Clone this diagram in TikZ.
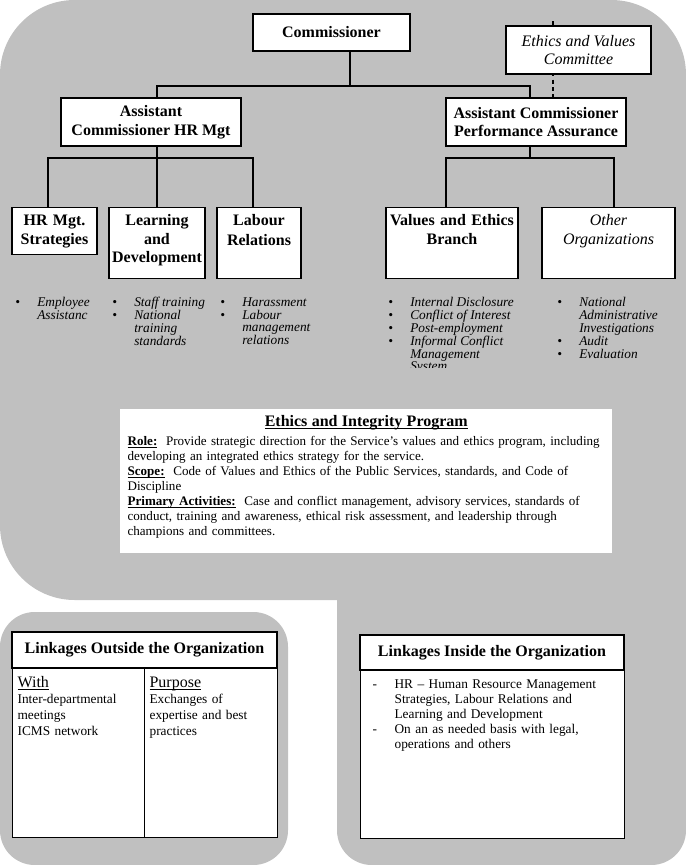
\documentclass[tikz,border=0pt]{standalone}
\usepackage{fontspec}
\setmainfont{Liberation Serif}
\usepackage{xcolor}
\usepackage{tikz}
\usetikzlibrary{positioning}

\definecolor{panelgray}{RGB}{192,192,192}
\newcommand{\undl}[1]{\underline{\smash{#1}}}

\begin{document}
\begin{tikzpicture}[x=0.75pt,y=-0.75pt,
  every node/.style={font=\fontsize{10}{11.25}\selectfont},
  panel/.style={fill=panelgray, draw=none},
  orgbox/.style={draw, line width=0.9pt, fill=white, align=center, inner sep=3pt, font=\fontsize{12}{14}\selectfont\bfseries},
  lowbox/.style 2 args={orgbox, anchor=north, inner xsep=1pt, inner ysep=3.5pt, text width=#1, text height=10pt, text depth=#2},
  tree/.style={line width=1.5pt},
  dashline/.style={line width=1.2pt, dash pattern=on 3pt off 2.5pt},
  bulletlist/.style={anchor=north west, inner sep=0pt, font=\itshape\fontsize{10}{9.4}\selectfont},
  progbox/.style={fill=white, anchor=north west, inner xsep=5.5pt, inner ysep=3pt, text width=358pt, align=left, text height=10pt, text depth=92pt},
  linkhead/.style={draw, line width=0.9pt, fill=white, font=\fontsize{12}{14}\selectfont\bfseries},
  linkcell/.style={draw, line width=0.9pt, fill=white, anchor=north west, inner xsep=3.75pt, inner ysep=3pt, align=left}
]
\useasboundingbox (0,0) rectangle (686,865);

% grey panels
\fill[panel, rounded corners=56pt] (0,0) rectangle (686,600);
\fill[panel, rounded corners=26pt] (337,400) rectangle (686,865);
\fill[panel, rounded corners=26pt] (0,612) rectangle (288,865);

% chart
\node[orgbox, minimum width=117.75pt, minimum height=27.75pt] (comm) at (331.5,32.5) {Commissioner};
\node[orgbox, minimum width=135pt, minimum height=36pt] (achr) at (151,122) {Assistant\\Commissioner HR Mgt};
\node[orgbox, minimum width=135pt, minimum height=36pt] (acpa) at (536,122) {Assistant Commissioner\\Performance Assurance};
\coordinate (dashtop) at (553,21);
\draw[dashline] (dashtop) -- (dashtop |- acpa.north);
\node[orgbox, font=\fontsize{12}{13.5}\selectfont\itshape, minimum width=108.75pt, minimum height=36pt] (evc) at (578.5,50) {Ethics and Values\\Committee};

\node[lowbox={61.75pt}{18.25pt}] (hrstrat) at (54.5,207) {HR Mgt.\\Strategies};
\node[lowbox={70pt}{36.25pt}] (learn) at (157,207) {Learning\\and\\Development};
\node[lowbox={61pt}{36.25pt}] (labour) at (259,207) {Labour\\[1pt]Relations};
\node[lowbox={97pt}{36.25pt}] (veb) at (452,207) {Values and Ethics\\Branch};
\node[lowbox={97.75pt}{36.25pt}, font=\fontsize{12}{14}\selectfont\itshape] (otherorg) at (608.5,207) {Other\\Organizations};

\draw[tree] ([xshift=13.5pt]comm.south) -- ++(0,34) coordinate (cbar);
\draw[tree] ([xshift=4.5pt]achr.north) |- (cbar) -| ([xshift=-4.5pt]acpa.north);
\draw[tree] ([xshift=4.5pt]achr.south) -- ++(0,11) coordinate (hrbar);
\draw[tree] ([xshift=-5pt]hrstrat.north) |- (hrbar) -| ([xshift=-4.5pt]labour.north);
\draw[tree] (learn.north) -- (learn.north |- hrbar);
\draw[tree] ([xshift=-4.5pt]acpa.south) -- ++(0,11) coordinate (pabar);
\draw[tree] ([xshift=-4.5pt]veb.north) |- (pabar) -| ([xshift=4pt]otherorg.north);

% lists under the boxes
\node[bulletlist] (hrlist) at (15,297) {\begin{tabular}[t]{@{}p{16.5pt}@{}l@{}}\textbullet & Employee\\ & Assistanc\end{tabular}};
\node[bulletlist] (ldlist) at (112,297) {\begin{tabular}[t]{@{}p{16.5pt}@{}l@{}}\textbullet & Staff training\\ \textbullet & National\\ & training\\ & standards\end{tabular}};
\node[bulletlist] (lrlist) at (220,297) {\begin{tabular}[t]{@{}p{16.5pt}@{}l@{}}\textbullet & Harassment\\ \textbullet & Labour\\ & management\\ & relations\end{tabular}};
\begin{scope}
\clip (380,290) rectangle (545,367);
\node[bulletlist] (veblist) at (388,297) {\begin{tabular}[t]{@{}p{16.5pt}@{}l@{}}\textbullet & Internal Disclosure\\ \textbullet & Conflict of Interest\\ \textbullet & Post-employment\\ \textbullet & Informal Conflict\\ & Management\\ & System\end{tabular}};
\end{scope}
\node[bulletlist] (orglist) at (557,297) {\begin{tabular}[t]{@{}p{16.5pt}@{}l@{}}\textbullet & National\\ & Administrative\\ & Investigations\\ \textbullet & Audit\\ \textbullet & Evaluation\end{tabular}};

% program
\node[progbox, font=\fontsize{9.8}{11.25}\selectfont] (prog) at (120,409) {\hyphenpenalty=10000\makebox[358pt]{\fontsize{12}{14}\selectfont\bfseries\undl{Ethics and Integrity Program}}\\[3pt]
\undl{\textbf{Role:}}\ \ Provide strategic direction for the Service’s values and ethics program, including\\
developing an integrated ethics strategy for the service.\\
\undl{\textbf{Scope:}}\ \ Code of Values and Ethics of the Public Services, standards, and Code of\\
Discipline\\
\undl{\textbf{Primary Activities:}}\ \ Case and conflict management, advisory services, standards of\\
conduct, training and awareness, ethical risk assessment, and leadership through\\
champions and committees.};

% linkages
\node[linkhead, minimum width=198.75pt, minimum height=27pt] (outhead) at (144.5,650) {Linkages Outside the Organization};
\node[linkcell, font=\fontsize{10}{12}\selectfont, text width=91.5pt, text height=11.25pt, text depth=109.5pt] (withcell) at (12,668) {{\fontsize{12}{14}\selectfont\undl{With}\par}Inter-departmental\\meetings\\ICMS network};
\node[linkcell, font=\fontsize{10}{12}\selectfont, text width=92.25pt, text height=11.25pt, text depth=109.5pt] (purposecell) at (144,668) {{\fontsize{12}{14}\selectfont\undl{Purpose}\par}Exchanges of\\expertise and best\\practices};

\node[linkhead, minimum width=198pt, minimum height=26.25pt] (inhead) at (492,652.5) {Linkages Inside the Organization};
\node[linkcell, inner xsep=9pt, text width=180pt, text height=10.5pt, text depth=109.5pt] (inbody) at (360,670) {\begin{tabular}[t]{@{}p{16.5pt}@{}l@{}}- & HR – Human Resource Management\\ & Strategies, Labour Relations and\\ & Learning and Development\\ - & On an as needed basis with legal,\\ & operations and others\end{tabular}};
\end{tikzpicture}
\end{document}
